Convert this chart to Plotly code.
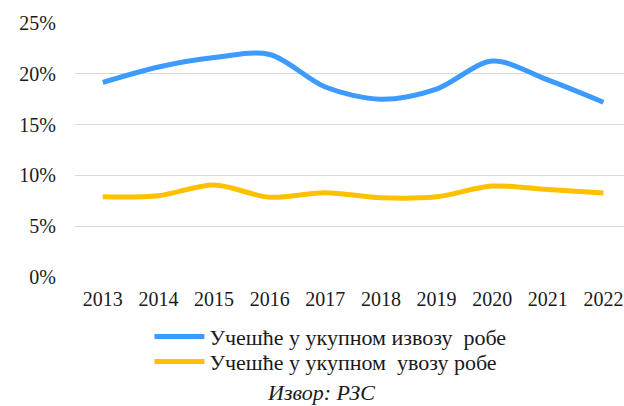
import plotly.graph_objects as go

years = ["2013", "2014", "2015", "2016", "2017", "2018", "2019", "2020", "2021", "2022"]
export_share = [0.1915, 0.2067, 0.2160, 0.2190, 0.1870, 0.1750, 0.1850, 0.2125, 0.1940, 0.1720]
import_share = [0.0790, 0.0800, 0.0905, 0.0785, 0.0830, 0.0780, 0.0790, 0.0895, 0.0860, 0.0827]
series_names = ["Учешће у укупном извозу\u00a0 робе", "Учешће у укупном\u00a0 увозу робе"]
source_text = "Извор: РЗС"

FONT = "Liberation Serif"

fig = go.Figure()
fig.add_trace(go.Scatter(x=years, y=export_share, mode="lines", name=series_names[0],
                         legend="legend",
                         line=dict(color="#3D9BFF", width=5, shape="spline", smoothing=0.9)))
fig.add_trace(go.Scatter(x=years, y=import_share, mode="lines", name=series_names[1],
                         legend="legend2",
                         line=dict(color="#FFC000", width=5, shape="spline", smoothing=0.9)))

leg_common = dict(x=0.1356, xanchor="left", yanchor="top",
                  font=dict(size=22, family=FONT), bgcolor="rgba(0,0,0,0)",
                  tracegroupgap=0, itemwidth=50)

fig.update_layout(
    width=624, height=406,
    margin=dict(l=75, r=0, t=23, b=129, autoexpand=False),
    paper_bgcolor="white", plot_bgcolor="white",
    font=dict(family=FONT, size=18, color="#1a1a1a"),
    showlegend=True,
    legend=dict(y=-0.152, **leg_common),
    legend2=dict(y=-0.2504, **leg_common),
    annotations=[dict(text=source_text, xref="paper", yref="paper",
                      x=(321 - 75) / 549, y=(277 - 392) / 254, xanchor="center", yanchor="middle",
                      showarrow=False, font=dict(size=22, family=FONT, style="italic"))],
)
fig.update_xaxes(type="category", range=[-0.5, 9.37], showgrid=False, showline=False,
                 ticks="", tickfont=dict(size=20, family=FONT), ticklabelstandoff=8,
                 automargin=False)
fig.update_yaxes(range=[0, 0.25], tickvals=[0, 0.05, 0.10, 0.15, 0.20, 0.25],
                 tickformat=".0%", showgrid=True, gridcolor="#d9d9d9", gridwidth=1,
                 zeroline=False, showline=False, ticks="",
                 tickfont=dict(size=20, family=FONT), ticklabelstandoff=18,
                 automargin=False)

fig.write_html("out.html", config={"displayModeBar": False},
               post_script="document.body.style.margin='0';document.body.style.overflow='hidden';")
